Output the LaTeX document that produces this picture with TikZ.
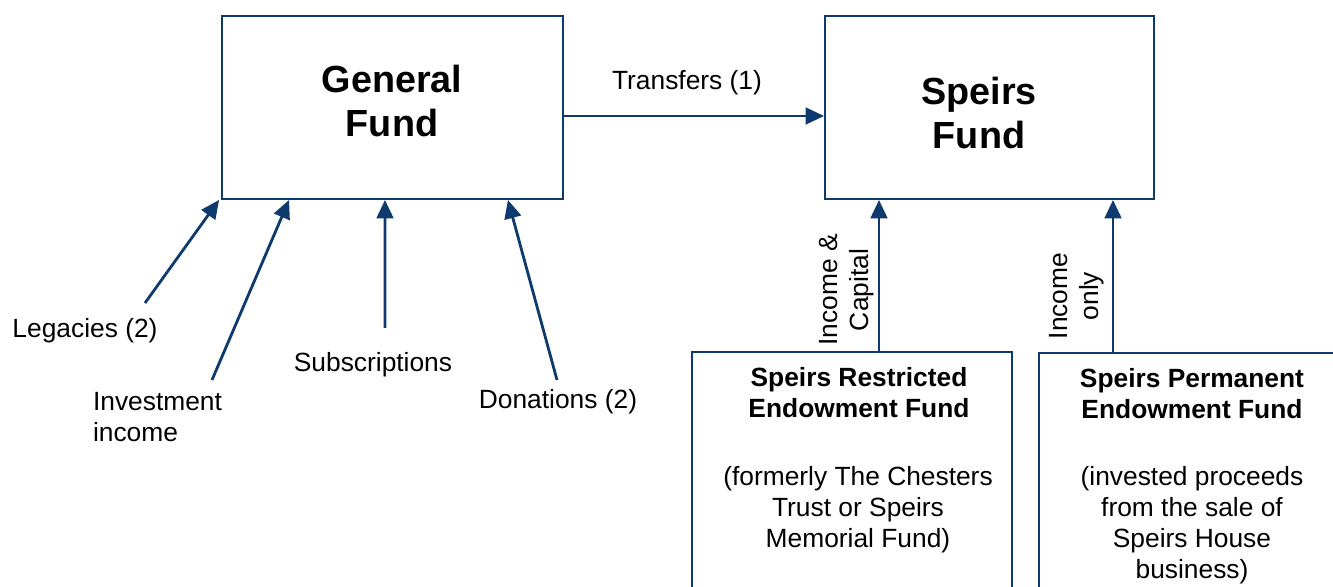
\documentclass[tikz,border=0pt]{standalone}
\usepackage{fontspec}
\setmainfont{Liberation Sans}
\usepackage{tikz}
\usetikzlibrary{arrows.meta}

\definecolor{fundblue}{RGB}{14,58,110}

\tikzset{
  fundbox/.style={draw=fundblue, line width=1.1pt, inner sep=0pt},
  flow/.style={draw=fundblue, line width=1.6pt, -{Triangle[length=10.5pt,width=9.5pt]}},
  lbl/.style={font=\fontsize{15pt}{17.6pt}\selectfont, align=center, inner sep=0pt},
  title/.style={font=\fontsize{21.5pt}{25pt}\selectfont\bfseries, align=center, inner sep=0pt}
}

\begin{document}
\begin{tikzpicture}[x=0.02cm, y=-0.02cm]

\useasboundingbox (0,0) rectangle (1333,587);
\clip (0,0) rectangle (1333,587);

% the two main funds
\node[fundbox, minimum width=6.82cm, minimum height=3.66cm] (gen) at (392.5,107.5) {};
\node[fundbox, minimum width=6.58cm, minimum height=3.66cm] (speirs) at (989.5,107.5) {};
\node[title] (gentxt) at (392,101) {General\\Fund};
\node[title] (speirstxt) at (979,113) {Speirs\\Fund};

% endowment funds (run off the page)
\node[fundbox, minimum width=6.4cm, minimum height=5.36cm] (restr) at (852,486) {};
\node[fundbox, minimum width=6.42cm, minimum height=5.34cm] (perm) at (1199.5,486.5) {};

\node[lbl, font=\fontsize{15pt}{17.6pt}\selectfont\bfseries] (restrtitle) at (859,393) {Speirs Restricted\\Endowment Fund};
\node[lbl] (restrtxt) at (858,510) {(formerly The Chesters\\Trust or Speirs\\Memorial Fund)};
\node[lbl, font=\fontsize{15pt}{17.6pt}\selectfont\bfseries] (permtitle) at (1192,394) {Speirs Permanent\\Endowment Fund};
\node[lbl] (permtxt) at (1192,525) {(invested proceeds\\from the sale of\\Speirs House\\business)};

% transfers
\draw[flow] ([yshift=-0.17cm]gen.east) -- ([yshift=-0.17cm]speirs.west);
\node[lbl] (transfers) at (687,83) {Transfers (1)};

% income into the general fund
\coordinate (legstart) at (145,303);
\coordinate (invstart) at (212,380);
\coordinate (substart) at (385,328);
\coordinate (donstart) at (557,380);

\draw[flow] (legstart) -- ([xshift=-0.04cm]gen.south west);
\draw[flow] (invstart) -- ([xshift=1.36cm]gen.south west);
\draw[flow] (substart) -- ([xshift=-0.15cm]gen.south);
\draw[flow] (donstart) -- ([xshift=-1.12cm]gen.south east);

\node[lbl] (legacies) at (85,331) {Legacies (2)};
\node[lbl, align=left] (invest) at (157.5,417) {Investment\\income};
\node[lbl] (subs) at (373,365) {Subscriptions};
\node[lbl] (donations) at (558,402) {Donations (2)};

% endowments into the speirs fund
\draw[flow] ([xshift=0.54cm]restr.north) coordinate (icstart) -- (icstart |- speirs.south);
\draw[flow] ([xshift=-1.73cm]perm.north) coordinate (iostart) -- (iostart |- speirs.south);

\node[lbl, rotate=90] (inccap) at (847,290) {Income \&\\Capital};
\node[lbl, rotate=90] (inconly) at (1077,296) {Income\\only};

\end{tikzpicture}
\end{document}
